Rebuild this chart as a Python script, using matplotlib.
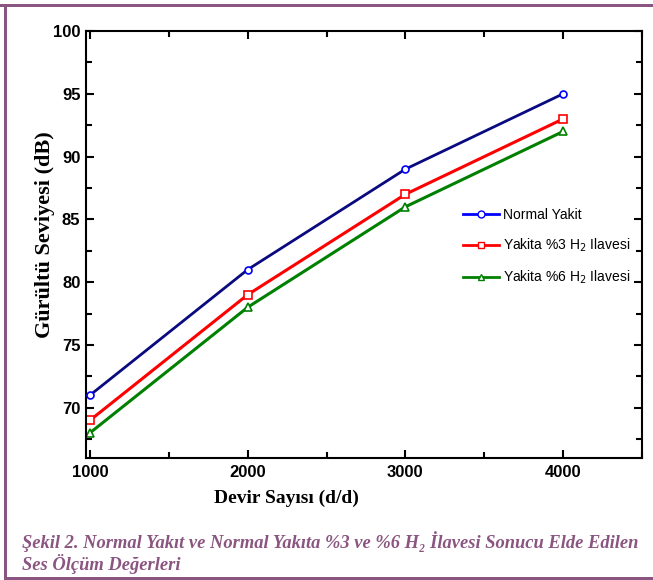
import matplotlib
matplotlib.use("Agg")
import matplotlib.pyplot as plt
from matplotlib.ticker import MultipleLocator
from matplotlib.lines import Line2D
from matplotlib.patches import Rectangle

# veriler
devir = [1000, 2000, 3000, 4000]
normal = [71, 81, 89, 95]
h2_3 = [69, 79, 87, 93]
h2_6 = [68, 78, 86, 92]

labels = ["Normal Yakit", "Yakita %3 H$_2$ Ilavesi", "Yakita %6 H$_2$ Ilavesi"]
caption1 = "Şekil 2. Normal Yakıt ve Normal Yakıta %3 ve %6 H₂ İlavesi Sonucu Elde Edilen"
caption2 = "Ses Ölçüm Değerleri"

purple = "#8a5580"

fig = plt.figure(figsize=(6.53, 5.80), dpi=100)
W, H = 653, 580
ax = fig.add_axes([86 / W, 1 - 458 / H, (642 - 86) / W, (458 - 31) / H])

ax.plot(devir, normal, color="#0a0a80", lw=2, zorder=3)
ax.plot(devir, normal, ls="none", marker="o", ms=5, mfc="white", mec="blue", mew=1.2, zorder=4)
ax.plot(devir, h2_3, color="red", lw=2.2, marker="s", ms=6, mfc="white", mec="red", mew=1.2)
ax.plot(devir, h2_6, color="green", lw=2.2, marker="^", ms=6, mfc="white", mec="green", mew=1.2)

ax.set_xlim(975, 4500)
ax.set_ylim(66, 100)
ax.xaxis.set_major_locator(MultipleLocator(1000))
ax.xaxis.set_minor_locator(MultipleLocator(500))
ax.yaxis.set_major_locator(MultipleLocator(5))
ax.yaxis.set_minor_locator(MultipleLocator(2.5))
ax.tick_params(which="both", direction="in", top=True, right=True, width=1.5,
               labelsize=12)
ax.tick_params(axis="x", pad=5)
ax.tick_params(axis="y", pad=4)
ax.tick_params(which="major", length=6)
ax.tick_params(which="minor", length=4)
for lab in ax.get_xticklabels() + ax.get_yticklabels():
    lab.set_fontfamily("Liberation Sans")
    lab.set_fontweight("bold")
for s in ax.spines.values():
    s.set_linewidth(1.5)

fig.text(286 / W, 1 - 498 / H, "Devir Sayısı (d/d)", family="Liberation Serif",
         fontweight="bold", fontsize=14, ha="center", va="center")
fig.text(45 / W, 1 - 235 / H, "Gürültü Seviyesi (dB)", family="Liberation Serif",
         fontweight="bold", fontsize=16, ha="center", va="center", rotation=90)

handles = [
    Line2D([], [], color="blue", lw=2, marker="o", ms=5, mfc="white", mec="blue"),
    Line2D([], [], color="red", lw=2, marker="s", ms=5, mfc="white", mec="red"),
    Line2D([], [], color="green", lw=2, marker="^", ms=5, mfc="white", mec="green"),
]
leg = ax.legend(handles, labels, loc="upper left", bbox_to_anchor=(0.655, 0.615),
                frameon=False, handlelength=2.6, labelspacing=1.05,
                handletextpad=0.3, prop={"family": "Liberation Sans", "size": 10})

# alt yazi
fig.text(22 / W, 1 - 542 / H, caption1, family=["Liberation Serif", "DejaVu Serif"],
         style="italic", fontweight="bold", fontsize=13.3, color=purple, va="center")
fig.text(22 / W, 1 - 564 / H, caption2, family="Liberation Serif", style="italic",
         fontweight="bold", fontsize=13.3, color=purple, va="center")

# cerceve
fig.add_artist(Rectangle((0, 1 - 7 / H), 1, 3 / H, transform=fig.transFigure,
                         color=purple, lw=0))
fig.add_artist(Rectangle((4 / W, 0), 3 / W, 1 - 4 / H, transform=fig.transFigure,
                         color=purple, lw=0))
fig.add_artist(Rectangle((4 / W, 0), 1, 3 / H, transform=fig.transFigure,
                         color=purple, lw=0))

fig.savefig("out.png", dpi=100)
